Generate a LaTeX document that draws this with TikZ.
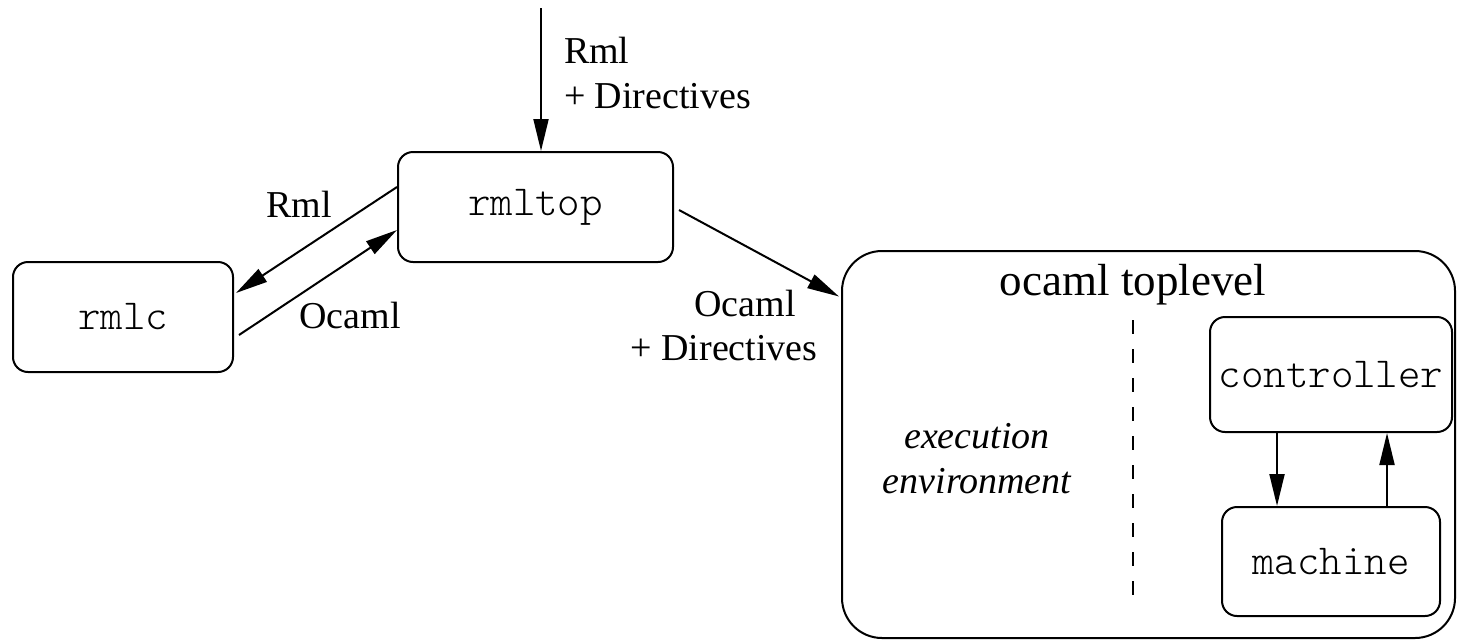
\documentclass[tikz,border=0pt]{standalone}
\usepackage{fontspec}
\setmainfont{Liberation Serif}
\setmonofont{Latin Modern Mono Light}
\usetikzlibrary{arrows.meta,positioning,calc}

\begin{document}
\begin{tikzpicture}[x=0.5pt,y=-0.5pt,line width=1pt,
    box/.style={draw,rounded corners=7.5pt,inner sep=0pt,
      font=\ttfamily\fontsize{21.4}{25}\selectfont},
    lbl/.style={inner sep=0pt,font=\fontsize{19}{22.5}\selectfont},
    arr/.style={-{Triangle[length=16pt,width=7.5pt]}}]
    \useasboundingbox (0,0) rectangle (1459,643);

    % the tools
    \node[box,minimum width=137.5pt,minimum height=55pt] (rmltop) at (535.5,207) {rmltop};
    \node[box,minimum width=110pt,minimum height=55pt] (rmlc) at (123,317) {rmlc};

    % the toplevel and what runs inside it
    \node[draw,rounded corners=20pt,minimum width=306.5pt,minimum height=193.5pt] (toplevel) at (1148.5,444.5) {};
    \node[inner sep=0pt,anchor=base,font=\fontsize{22.5}{27}\selectfont] (title) at (1133,295) {ocaml toplevel};
    \node[box,minimum width=121pt,minimum height=57.5pt] (ctrl) at (1331,374.5) {controller};
    \node[box,minimum width=109pt,minimum height=54.5pt] (mach) at (1331,561.5) {machine};
    \node[lbl,align=center,anchor=base,font=\fontsize{19}{22.5}\selectfont\itshape] (env) at (977,493) {execution\\environment};
    \coordinate (sepa) at (1133,320);
    \coordinate (sepb) at (1133,598);
    \draw[dash pattern=on 7pt off 7.5pt] (sepa) -- (sepb);

    % input
    \coordinate (input) at (541,8);
    \draw[arr] (input) -- (input |- rmltop.north);
    \node[lbl,align=left,anchor=base west] (inlbl) at (563,108) {Rml\\+ Directives};

    % rmltop <-> rmlc
    \draw[arr] ([yshift=10pt]rmltop.west) -- ([xshift=1pt,yshift=12pt]rmlc.east);
    \draw[arr] ([xshift=2.5pt,yshift=-9pt]rmlc.east) -- ([yshift=-11.5pt]rmltop.west);
    \node[lbl,anchor=base] (rmllbl) at (299,217) {Rml};
    \node[lbl,anchor=base] (ocamllbl) at (350,328) {Ocaml};

    % rmltop -> toplevel
    \draw[arr] ([xshift=2.5pt,yshift=-1.5pt]rmltop.east) -- ([xshift=-1pt,yshift=74pt]toplevel.west);
    \node[lbl,anchor=base] (outlbla) at (745,316) {Ocaml};
    \node[lbl,anchor=base] (outlblb) at (724,360) {+ Directives};

    % controller <-> machine
    \draw[arr] ([xshift=-27pt]ctrl.south) -- ([xshift=-27pt]ctrl.south |- mach.north);
    \draw[arr] ([xshift=28pt]ctrl.south |- mach.north) -- ([xshift=28pt]ctrl.south);
\end{tikzpicture}
\end{document}
